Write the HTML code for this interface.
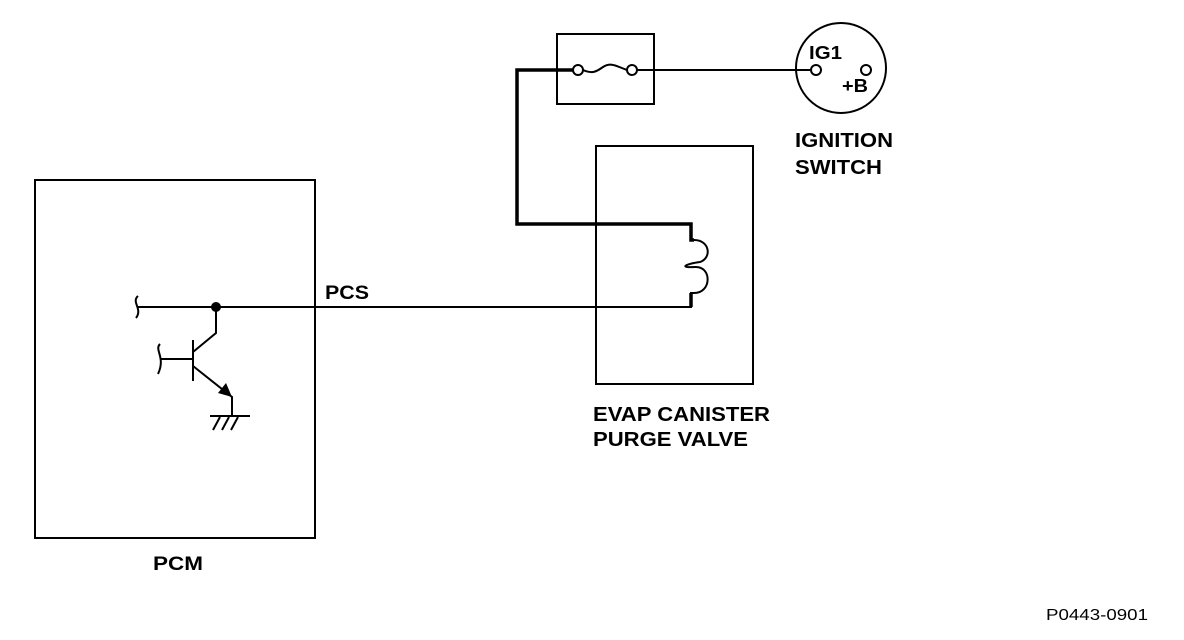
<!DOCTYPE html>
<html><head><meta charset="utf-8"><style>
html,body{margin:0;padding:0;background:#fff;width:1184px;height:640px;overflow:hidden}
text{font-family:"Liberation Sans",Arial,sans-serif;font-weight:bold;fill:#000}
</style></head><body>
<svg width="1184" height="640" viewBox="0 0 1184 640" xmlns="http://www.w3.org/2000/svg">
<g fill="none" stroke="#000" stroke-width="2">
<rect x="35" y="180" width="280" height="358"/>
<rect x="596" y="146" width="157" height="238"/>
<rect x="557" y="34" width="97" height="70"/>
<circle cx="841" cy="68" r="45"/>
<polyline points="138,307 691,307 691,293 694,293"/>
<path d="M138,296 C131,302 143,309 136,318"/>
<line x1="636" y1="70" x2="810" y2="70"/>
<circle cx="578" cy="70" r="5"/>
<circle cx="632" cy="70" r="5"/>
<path d="M583,70 C592,74 596,72 603,67 C611,62 616,66 627,70"/>
<circle cx="816" cy="70" r="5"/>
<circle cx="866" cy="70" r="5"/>
<path d="M694,240 C710,240 712,258 700,262 C686,264 678,268 695,267 C712,266 712,293 694,293" />
<polyline points="216,307 216,333 193,352"/>
<line x1="193" y1="340" x2="193" y2="381"/>
<line x1="160" y1="359" x2="193" y2="359"/>
<path d="M160,344 C154,350 166,357 158,374"/>
<polyline points="193,366 232,397 232,415"/>
<line x1="210" y1="416" x2="250" y2="416"/>
<line x1="220" y1="417" x2="213" y2="430"/>
<line x1="229" y1="417" x2="222" y2="430"/>
<line x1="238" y1="417" x2="231" y2="430"/>
</g>
<g fill="none" stroke="#000" stroke-width="3.5">
<polyline points="573,70 517,70 517,224 691,224 691,240 694,240"/>
<line x1="691" y1="293" x2="691" y2="307"/>
</g>
<polygon points="232,397 218,393 226,383" fill="#000"/>
<circle cx="216" cy="307" r="5" fill="#000"/>
<text x="325" y="299" font-size="19" textLength="44" lengthAdjust="spacingAndGlyphs">PCS</text>
<text x="153" y="570" font-size="19" textLength="50" lengthAdjust="spacingAndGlyphs">PCM</text>
<text x="593" y="421" font-size="20" textLength="177" lengthAdjust="spacingAndGlyphs">EVAP CANISTER</text>
<text x="593" y="446" font-size="20" textLength="155" lengthAdjust="spacingAndGlyphs">PURGE VALVE</text>
<text x="795" y="147" font-size="20" textLength="98" lengthAdjust="spacingAndGlyphs">IGNITION</text>
<text x="795" y="174" font-size="20" textLength="87" lengthAdjust="spacingAndGlyphs">SWITCH</text>
<text x="809" y="59" font-size="18" textLength="33" lengthAdjust="spacingAndGlyphs">IG1</text>
<text x="842" y="92" font-size="18" textLength="26" lengthAdjust="spacingAndGlyphs">+B</text>
<text x="1046" y="620" font-size="16" textLength="102" lengthAdjust="spacingAndGlyphs" style="font-weight:normal">P0443-0901</text>
</svg>
</body></html>
